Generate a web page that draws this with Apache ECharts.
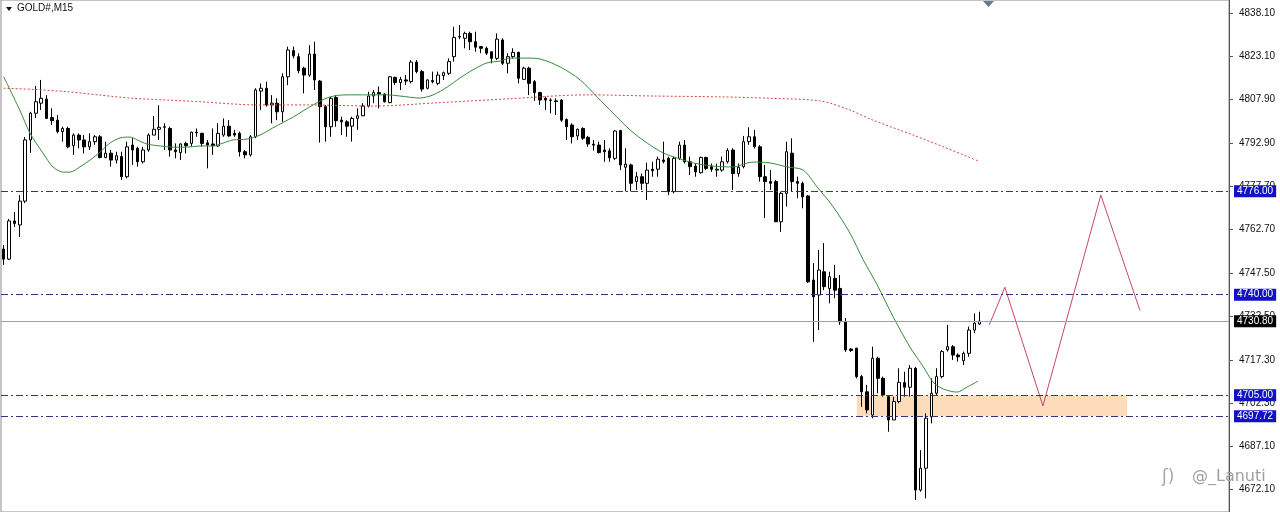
<!DOCTYPE html>
<html>
<head>
<meta charset="utf-8">
<script src="https://cdn.jsdelivr.net/npm/echarts@6/dist/echarts.min.js"></script>
<style>
html,body{margin:0;padding:0;background:#fff;}
#c{width:1280px;height:512px;}
</style>
</head>
<body>
<div id="c"></div>
<script>
const SLOT_COUNT = 229;
const categories = Array.from({length: SLOT_COUNT}, (_, i) => 'bar' + i);

const opens = [
4755.9,4752.4,4765.7,4764.3,4772.6,4793.9,4803.2,4806.7,4808.1,4801.7,
4800.8,4796.8,4797.9,4791.9,4795.6,4793.9,4791.5,4793.3,4795.0,4787.8,
4789.3,4786.9,4788.1,4781.1,4792.1,4791.0,4786.3,4790.4,4795.6,4797.6,
4798.3,4797.9,4790.4,4789.5,4792.7,4792.7,4796.6,4796.2,4792.9,4792.5,
4791.8,4795.6,4798.7,4796.2,4796.2,4789.8,4788.7,4795.0,4810.9,4811.9,
4806.1,4806.7,4803.7,4815.9,4825.0,4822.9,4818.9,4816.5,4823.8,4814.4,
4805.5,4798.5,4808.7,4800.8,4800.2,4798.7,4801.4,4802.3,4805.7,4809.2,
4810.4,4809.9,4806.9,4815.7,4813.9,4814.8,4814.2,4821.0,4817.7,4811.9,
4814.6,4813.6,4816.3,4817.1,4822.9,4829.8,4829.3,4831.0,4828.1,4826.4,
4825.8,4824.6,4822.3,4828.7,4820.6,4822.9,4824.4,4815.0,4818.9,4814.2,
4810.4,4808.4,4807.8,4807.5,4807.8,4801.0,4799.1,4795.3,4797.9,4794.8,
4792.4,4792.1,4790.4,4790.1,4787.5,4797.2,4784.4,4785.2,4779.4,4781.1,
4778.8,4783.7,4783.7,4786.9,4787.5,4775.9,4787.5,4792.1,4786.3,4784.8,
4782.5,4787.8,4784.6,4783.4,4783.4,4786.3,4790.4,4782.2,4784.6,4793.3,
4795.0,4791.5,4781.1,4779.4,4779.4,4765.4,4775.3,4789.3,4779.4,4778.8,
4774.4,4745.1,4739.9,4748.0,4742.2,4745.7,4742.2,4730.6,4721.1,4721.4,
4711.5,4706.2,4698.1,4717.9,4710.9,4704.5,4696.4,4702.8,4709.4,4707.8,
4714.4,4672.0,4679.6,4697.5,4705.7,4711.5,4720.8,4721.9,4719.0,4717.0,
4719.6,4727.7,4729.8];

const closes = [
4752.4,4765.7,4764.8,4772.6,4793.9,4803.2,4807.2,4808.4,4801.4,4800.6,
4796.8,4797.9,4791.5,4795.6,4793.9,4791.5,4793.3,4795.0,4787.8,4789.3,
4786.9,4788.4,4781.1,4791.5,4790.4,4786.3,4790.4,4795.6,4797.6,4798.3,
4798.5,4790.4,4789.8,4792.5,4791.9,4796.6,4796.4,4792.7,4792.1,4791.9,
4796.2,4798.7,4795.3,4795.6,4789.8,4788.7,4795.0,4811.3,4811.9,4806.1,
4806.7,4803.7,4815.9,4825.2,4823.2,4818.0,4816.5,4823.8,4814.8,4805.5,
4798.5,4808.4,4800.6,4800.2,4798.7,4801.4,4802.3,4805.7,4809.2,4810.4,
4809.9,4807.2,4815.9,4813.9,4815.0,4814.4,4821.0,4817.7,4811.6,4814.8,
4814.2,4816.5,4817.3,4821.2,4829.6,4829.9,4831.0,4828.1,4826.2,4825.8,
4824.1,4822.3,4829.0,4820.6,4822.9,4824.4,4815.4,4818.9,4813.6,4810.4,
4807.8,4807.8,4807.7,4807.3,4800.8,4798.5,4795.0,4797.6,4794.5,4792.5,
4792.1,4789.5,4789.8,4787.7,4797.0,4785.2,4785.5,4778.8,4781.1,4778.8,
4783.4,4783.2,4787.2,4786.4,4775.9,4787.5,4792.1,4786.3,4784.6,4782.8,
4787.8,4784.0,4783.7,4783.7,4786.3,4790.2,4782.2,4784.4,4793.3,4795.0,
4791.5,4781.1,4779.4,4778.8,4765.4,4775.3,4789.8,4779.4,4778.8,4774.1,
4744.5,4739.3,4748.6,4742.8,4746.3,4741.6,4730.6,4720.8,4720.6,4711.5,
4706.2,4699.9,4717.9,4710.9,4705.1,4696.4,4702.8,4709.5,4707.8,4714.4,
4672.0,4679.6,4697.0,4705.7,4711.5,4720.2,4721.9,4719.0,4718.4,4719.6,
4727.7,4730.1,4730.8];

const lows = [
4750.4,4752.1,4763.6,4760.1,4771.9,4789.4,4801.5,4804.3,4801.3,4799.1,
4796.2,4793.3,4791.0,4788.7,4791.0,4789.2,4790.4,4792.2,4787.5,4787.5,
4784.6,4785.7,4780.0,4780.5,4785.2,4784.6,4785.7,4789.8,4795.6,4793.9,
4790.4,4788.1,4787.5,4786.9,4789.2,4791.5,4795.0,4791.5,4784.0,4788.7,
4791.5,4795.0,4795.0,4795.0,4788.1,4787.5,4788.1,4794.5,4804.3,4805.5,
4799.7,4800.8,4800.2,4813.0,4822.3,4817.1,4810.1,4815.9,4811.3,4793.0,
4793.3,4795.0,4798.5,4795.6,4795.0,4793.3,4797.4,4802.2,4805.2,4806.7,
4804.9,4806.9,4806.7,4813.0,4811.3,4813.0,4813.6,4817.1,4810.7,4811.5,
4813.6,4813.0,4814.8,4816.5,4821.2,4829.0,4825.8,4825.2,4824.6,4824.1,
4823.5,4820.6,4821.7,4820.0,4817.1,4822.3,4813.6,4814.8,4809.5,4807.5,
4806.1,4804.3,4803.2,4802.6,4800.2,4793.9,4792.7,4793.9,4793.9,4791.5,
4790.2,4789.2,4786.3,4786.3,4786.9,4783.4,4776.0,4776.0,4776.5,4776.5,
4773.0,4781.1,4781.1,4785.7,4774.7,4775.3,4786.9,4785.7,4781.7,4781.1,
4782.2,4783.4,4782.8,4781.1,4782.8,4785.7,4776.5,4781.1,4784.0,4792.2,
4790.9,4779.4,4766.7,4776.5,4765.3,4761.9,4770.7,4775.9,4773.6,4770.1,
4744.1,4723.6,4727.7,4741.6,4737.0,4738.8,4729.5,4720.1,4720.1,4710.9,
4701.0,4698.7,4697.0,4705.7,4704.5,4692.3,4696.4,4702.2,4704.5,4704.5,
4668.5,4671.4,4669.1,4695.2,4705.1,4710.9,4720.2,4717.3,4716.7,4715.5,
4718.4,4726.6,4729.5];

const highs = [
4757.3,4766.4,4768.8,4774.7,4794.9,4803.7,4812.7,4814.8,4809.5,4804.9,
4802.6,4798.5,4798.5,4796.2,4796.2,4795.6,4796.2,4795.6,4795.6,4793.3,
4790.4,4789.8,4789.8,4793.3,4794.5,4791.5,4791.5,4796.2,4802.2,4806.0,
4799.7,4798.5,4792.7,4792.7,4793.3,4796.8,4797.9,4796.4,4793.9,4797.9,
4799.7,4801.4,4800.8,4797.4,4796.8,4790.4,4795.6,4811.9,4813.6,4814.2,
4809.5,4808.4,4817.1,4826.4,4826.4,4824.1,4819.4,4826.9,4828.1,4814.8,
4806.1,4808.9,4809.5,4802.0,4800.8,4802.0,4804.9,4806.7,4810.7,4811.3,
4812.5,4810.1,4816.2,4815.9,4815.9,4816.5,4821.7,4821.7,4818.3,4815.0,
4817.7,4817.7,4817.7,4822.3,4833.3,4833.9,4831.6,4831.6,4831.6,4826.4,
4826.4,4824.6,4831.0,4829.3,4824.1,4825.8,4824.6,4819.4,4819.4,4814.8,
4810.7,4809.0,4808.4,4808.4,4808.1,4801.4,4799.7,4797.9,4798.3,4795.3,
4793.9,4793.3,4793.9,4791.0,4797.4,4797.4,4791.0,4785.7,4782.8,4782.2,
4786.0,4786.3,4788.1,4793.3,4788.1,4788.1,4793.3,4793.9,4788.1,4785.7,
4788.1,4788.1,4785.7,4785.7,4788.1,4791.0,4791.0,4785.7,4795.3,4798.3,
4797.4,4792.1,4785.2,4783.4,4780.0,4775.9,4793.3,4794.5,4781.1,4779.4,
4774.7,4751.0,4755.6,4758.0,4748.0,4750.4,4746.9,4731.9,4721.5,4721.5,
4712.1,4708.6,4721.9,4718.4,4711.5,4705.1,4704.5,4714.4,4713.2,4715.5,
4714.9,4685.9,4698.7,4710.9,4714.4,4720.8,4729.5,4722.5,4719.6,4720.2,
4728.9,4733.5,4734.1];

// Green moving average (bar position, price)
const maGreenPos = [0,3.0,4.9,7.3,9.2,11.1,12.4,14.2,16.1,18.0,19.8,21.7,23.6,24.9,26.7,29.2,31.6,34.2,36.6,39.0,40.9,42.8,45.4,47.8,50.2,54.0,57.7,60.9,64.0,67.8,71.5,73.9,77.6,80.1,82.7,85.1,87.5,90.1,92.6,94.4,97.6,100.0,103.8,107.5,110.7,113.6,116.8,120.0,123.0,125.6,128.6,132.3,136.0,139.7,142.9,146.1,149.1,151.7,154.7,157.8,160.3,162.9,165.9,169.0,171.5,173.3,175.2,177.8,179.7,181.7];
const maGreenVal = [4815.9,4804.3,4796.3,4789.4,4784.5,4782.7,4782.7,4784.5,4786.9,4789.7,4792.8,4794.6,4794.9,4793.9,4792.5,4791.8,4791.4,4791.4,4791.8,4791.8,4792.8,4793.9,4794.2,4795.6,4798.1,4801.9,4806.1,4808.9,4809.6,4809.6,4809.6,4809.2,4808.5,4809.6,4812.3,4815.5,4818.3,4820.7,4821.4,4822.4,4822.4,4822.1,4819.3,4814.8,4808.8,4803.3,4797.4,4792.8,4789.4,4787.6,4785.9,4784.8,4784.5,4786.2,4785.9,4784.5,4783.4,4777.5,4770.6,4761.5,4752.1,4743.4,4732.2,4721.8,4714.9,4709.6,4707.2,4706.1,4707.9,4709.9];

// Red dotted moving average
const maRedPos = [0,5.5,11.8,18.0,24.1,30.5,36.6,47.2,56.6,68.9,81.4,93.9,108.8,121.1,133.6,143.0,152.2,157.3,162.1,169.6,175.9,181.7];
const maRedVal = [4811.9,4811.5,4810.7,4809.5,4808.4,4807.8,4807.2,4806.1,4806.1,4805.7,4806.9,4808.2,4809.6,4809.2,4808.9,4808.4,4807.5,4804.7,4800.8,4795.6,4791.0,4786.6];

// Projected zigzag path
const zigPos = [183.8,186.7,193.8,204.6,211.9];
const zigVal = [4729.5,4742.6,4701.3,4774.7,4734.5];

// Horizontal levels
const dashLevels = [4776.00, 4740.00, 4705.00, 4697.72];
const lastPrice = 4730.80;
// Highlighted zone
const zoneFrom = 159.1, zoneTo = 209.5;
const zoneLow = 4697.72, zoneHigh = 4705.00;

// Price scale ticks
const yTicks = [4838.10,4823.10,4807.90,4792.90,4777.70,4762.70,4747.50,4732.50,4717.30,4702.30,4687.10,4672.10];
const yMin = 4664.35, yMax = 4842.63;

const candleData = opens.map((o, i) => [o, closes[i], lows[i], highs[i]]);
const pairs = (a, b) => a.map((x, i) => [x, b[i]]);

const FONT = 'Liberation Sans';
const chart = echarts.init(document.getElementById('c'), null, {renderer: 'canvas'});

const levelLine = (v, opts) => ({
  yAxis: v,
  lineStyle: opts.line,
  label: {
    show: true, position: 'end', distance: 5,
    formatter: () => v.toFixed(2),
    color: '#ffffff', backgroundColor: opts.bg,
    fontFamily: FONT, fontSize: 10, padding: [1, 3, 1, 3]
  }
});

const dashStyle = {color: '#35357f', width: 1, type: [7, 3, 2, 3]};

chart.setOption({
  animation: false,
  backgroundColor: '#ffffff',
  grid: {left: 1, right: 51, top: 0, bottom: 0, show: true, borderColor: '#8a8a8a', borderWidth: 1, backgroundColor: '#ffffff'},
  xAxis: [
    {type: 'category', data: categories, boundaryGap: true, show: false},
    {type: 'value', min: -0.5, max: SLOT_COUNT - 0.5, show: false}
  ],
  yAxis: {
    type: 'value', position: 'right', min: yMin, max: yMax,
    axisLine: {show: true, onZero: false, lineStyle: {color: '#555555', width: 1}},
    axisTick: {show: true, inside: false, customValues: yTicks, length: 4, lineStyle: {color: '#555555'}},
    minorTick: {show: false},
    axisLabel: {customValues: yTicks, formatter: v => v.toFixed(2), color: '#111111', fontFamily: FONT, fontSize: 10, margin: 10},
    splitLine: {show: false},
    splitArea: {show: false}
  },
  graphic: [
    {type: 'polygon', shape: {points: [[6, 7], [12, 7], [9, 11]]}, style: {fill: '#111'}, z: 100},
    {type: 'text', left: 17, top: 3, style: {text: 'GOLD#,M15', font: '10px "Liberation Sans"', fill: '#111'}, z: 100},
    {type: 'polygon', shape: {points: [[983, 1], [994, 1], [988.5, 7]]}, style: {fill: '#6b7895'}, z: 100},
    {type: 'text', left: 1162, top: 469, style: {text: 'ʃ)', font: '17px "DejaVu Sans"', fill: '#a8a8a8'}, z: 100},
    {type: 'text', left: 1192, top: 469, style: {text: '@_Lanuti', font: '16px "DejaVu Sans"', fill: '#a0a0a0'}, z: 100}
  ],
  series: [
    {
      type: 'line', xAxisIndex: 1, data: [], z: 1, silent: true,
      markArea: {
        silent: true,
        itemStyle: {color: '#fddcbc'},
        data: [[{xAxis: zoneFrom, yAxis: zoneLow}, {xAxis: zoneTo, yAxis: zoneHigh}]]
      }
    },
    {
      type: 'candlestick', xAxisIndex: 0, data: candleData, barWidth: 3, z: 3,
      itemStyle: {color: '#ffffff', color0: '#000000', borderColor: '#000000', borderColor0: '#000000', borderWidth: 1}
    },
    {
      type: 'line', xAxisIndex: 1, data: pairs(maGreenPos, maGreenVal), smooth: 0.3, symbol: 'none', z: 4,
      lineStyle: {color: '#3a8a3a', width: 1}
    },
    {
      type: 'line', xAxisIndex: 1, data: pairs(maRedPos, maRedVal), smooth: 0.3, symbol: 'none', z: 4,
      lineStyle: {color: '#d04848', width: 1, type: [2, 2]}
    },
    {
      type: 'line', xAxisIndex: 1, data: pairs(zigPos, zigVal), symbol: 'none', z: 4,
      lineStyle: {color: '#c8476a', width: 1}
    },
    {
      type: 'line', xAxisIndex: 1, data: [], z: 10, silent: true,
      markLine: {
        silent: true, symbol: 'none', animation: false,
        data: dashLevels.map(v => levelLine(v, {line: dashStyle, bg: '#1212c4'}))
          .concat([levelLine(lastPrice, {line: {color: '#97a0b8', width: 1, type: 'solid'}, bg: '#000000'})])
      }
    }
  ]
});
</script>
</body>
</html>
